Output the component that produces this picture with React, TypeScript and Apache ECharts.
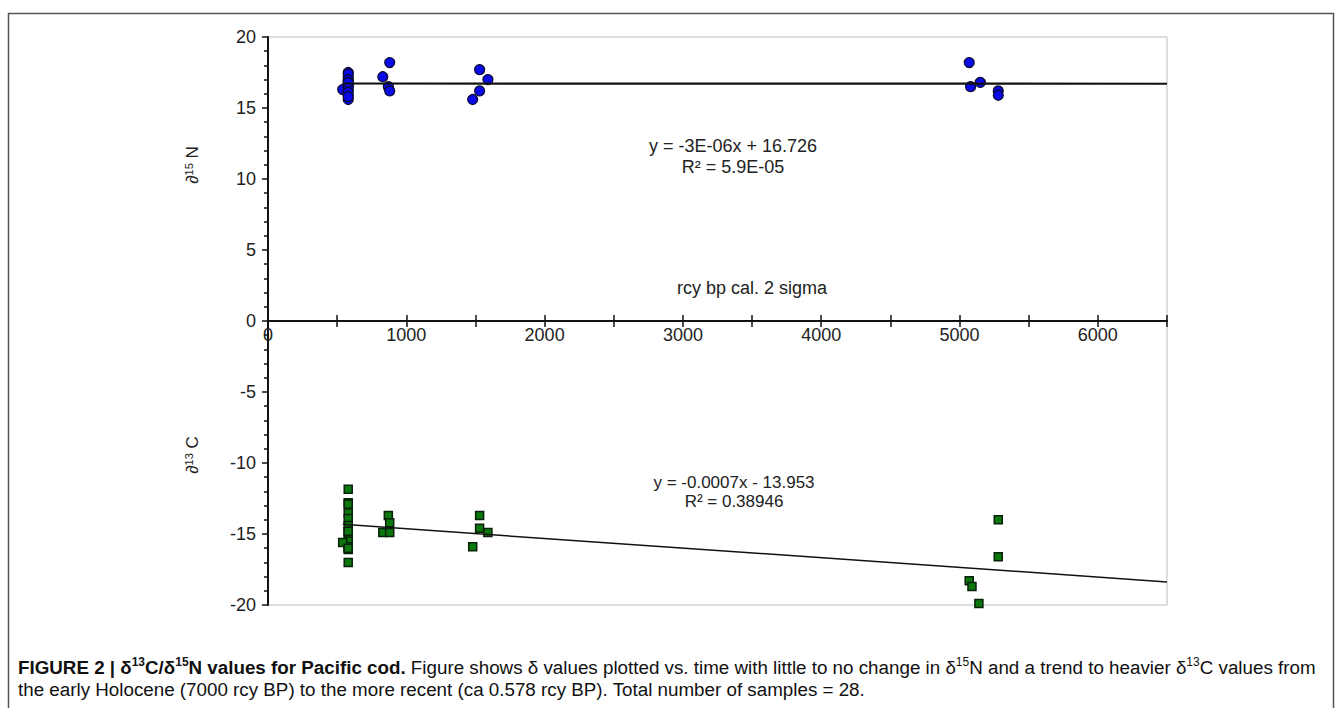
import React, { useEffect, useRef } from "react";
import * as echarts from "echarts";

// ---- data ----
const nCluster1X = [580, 580, 580, 580, 580, 580, 580, 540, 580, 580, 580, 580, 580, 580, 580];
const nCluster1Y = [17.5, 17.2, 16.9, 16.6, 16.3, 15.9, 15.6, 16.3, 17.4, 17.0, 16.7, 16.5, 16.1, 15.8, 16.8];
const nOtherX = [830, 880, 870, 880, 1480, 1530, 1530, 1590, 5070, 5080, 5150, 5280, 5280];
const nOtherY = [17.2, 18.2, 16.5, 16.2, 15.6, 17.7, 16.2, 17.0, 18.2, 16.5, 16.8, 16.2, 15.9];

const cCluster1X = [580, 580, 580, 580, 580, 580, 580, 580, 580, 580, 580, 580, 540, 580, 580];
const cCluster1Y = [-11.85, -12.8, -12.9, -13.5, -13.9, -14.4, -14.8, -15.2, -15.5, -15.9, -16.1, -17.0, -15.6, -14.8, -16.0];
const cOtherX = [830, 870, 880, 880, 1480, 1530, 1530, 1590, 5070, 5090, 5140, 5280, 5280];
const cOtherY = [-14.9, -13.7, -14.2, -14.9, -15.9, -13.7, -14.6, -14.9, -18.3, -18.7, -19.9, -14.0, -16.6];

// trend lines (from the printed regression equations)
const trendX = [540, 6500];
const nSlope = -0.000003;
const nIntercept = 16.726;
const cSlope = -0.00068;
const cIntercept = -13.953;

const xTicks = [0, 1000, 2000, 3000, 4000, 5000, 6000];
const yTicks = [-20, -15, -10, -5, 0, 5, 10, 15, 20];

const FONT = "Arial, 'Liberation Sans', sans-serif";

export default function App() {
  const ref = useRef<HTMLDivElement>(null);
  useEffect(() => {
    document.body.style.margin = "0";
    const chart = echarts.init(ref.current!, undefined, { renderer: "svg" });
    const nData = [
      ...nCluster1X.map((x, i) => [x, nCluster1Y[i]]),
      ...nOtherX.map((x, i) => [x, nOtherY[i]]),
    ];
    const cData = [
      ...cCluster1X.map((x, i) => [x, cCluster1Y[i]]),
      ...cOtherX.map((x, i) => [x, cOtherY[i]]),
    ];
    const nTrend = trendX.map((x) => [x, nSlope * x + nIntercept]);
    const cTrend = trendX.map((x) => [x, cSlope * x + cIntercept]);

    const gridTop = 37;
    const gridBottom = 103;
    const plotH = 708 - gridTop - gridBottom;
    const zeroOffset = -plotH / 2; // y-range is symmetric (-20..20)

    const tickStyle = { color: "#111", width: 1.5 };
    const xAxisBase = {
      type: "value",
      min: 0,
      max: 6500,
      interval: 1000,
      offset: zeroOffset,
      splitLine: { show: false },
      axisLine: { show: true, onZero: false, lineStyle: { color: "#111", width: 2 } },
    };

    const annot = (text: string, x: number, y: number, size: number) => ({
      type: "text",
      x,
      y,
      style: { text, align: "center", verticalAlign: "middle", fontSize: size, fontFamily: FONT, fill: "#222" },
    });

    chart.setOption({
      animation: false,
      backgroundColor: "#fff",
      grid: {
        left: 268,
        top: gridTop,
        right: 175,
        bottom: gridBottom,
        show: true,
        borderColor: "#bdbdbd",
        borderWidth: 1,
      },
      xAxis: [
        {
          ...xAxisBase,
          position: "bottom",
          axisTick: { show: true, inside: false, length: 6, lineStyle: tickStyle },
          minorTick: { show: true, splitNumber: 2, length: 6, lineStyle: tickStyle },
          axisLabel: {
            show: true,
            margin: 5,
            fontSize: 18,
            color: "#222",
            fontFamily: FONT,
            formatter: (v: number) => (xTicks.includes(v) ? String(v) : ""),
          },
        },
        {
          ...xAxisBase,
          position: "top",
          axisTick: { show: true, inside: false, length: 6, lineStyle: tickStyle },
          minorTick: { show: true, splitNumber: 2, length: 6, lineStyle: tickStyle },
          axisLabel: { show: false },
        },
      ],
      yAxis: {
        type: "value",
        min: -20,
        max: 20,
        interval: 5,
        splitLine: { show: false },
        axisLine: { show: true, onZero: false, lineStyle: { color: "#111", width: 2 } },
        axisTick: { show: true, length: 6, lineStyle: tickStyle },
        minorTick: { show: true, splitNumber: 5, length: 4, lineStyle: tickStyle },
        axisLabel: {
          margin: 12,
          fontSize: 18,
          color: "#222",
          fontFamily: FONT,
          formatter: (v: number) => (yTicks.includes(v) ? String(v) : ""),
        },
      },
      series: [
        {
          type: "scatter",
          data: nData,
          symbol: "circle",
          symbolSize: 10,
          itemStyle: { color: "#0a0ae6", borderColor: "#0a0a30", borderWidth: 1.2, opacity: 1 },
          z: 3,
        },
        {
          type: "scatter",
          data: cData,
          symbol: "rect",
          symbolSize: 8,
          itemStyle: { color: "#0b780e", borderColor: "#082008", borderWidth: 1.5, opacity: 1 },
          z: 3,
        },
        {
          type: "line",
          data: nTrend,
          showSymbol: false,
          lineStyle: { color: "#111", width: 2.2 },
          z: 4,
        },
        {
          type: "line",
          data: cTrend,
          showSymbol: false,
          lineStyle: { color: "#111", width: 1.5 },
          z: 4,
        },
      ],
      graphic: [
        {
          type: "rect",
          shape: { x: 8.5, y: 13.5, width: 1325, height: 710 },
          style: { fill: "none", stroke: "#555", lineWidth: 1.5 },
          z: 0,
        },
        {
          type: "text",
          x: 192,
          y: 165,
          rotation: Math.PI / 2,
          style: {
            text: "{a|∂}{s|15}{a| N}",
            align: "center",
            verticalAlign: "middle",
            rich: {
              a: { fontSize: 17, fontFamily: FONT, fill: "#222", lineHeight: 18 },
              s: { fontSize: 11, fontFamily: FONT, fill: "#222", verticalAlign: "top", lineHeight: 18 },
            },
          },
        },
        {
          type: "text",
          x: 192,
          y: 455,
          rotation: Math.PI / 2,
          style: {
            text: "{a|∂}{s|13}{a| C}",
            align: "center",
            verticalAlign: "middle",
            rich: {
              a: { fontSize: 17, fontFamily: FONT, fill: "#222", lineHeight: 18 },
              s: { fontSize: 11, fontFamily: FONT, fill: "#222", verticalAlign: "top", lineHeight: 18 },
            },
          },
        },
        annot("y = -3E-06x + 16.726", 733, 146, 18),
        annot("R² = 5.9E-05", 733, 167, 18),
        annot("rcy bp cal. 2 sigma", 752, 288, 18),
        annot("y = -0.0007x - 13.953", 734, 482, 17),
        annot("R² = 0.38946", 734, 501, 17),
        {
          type: "text",
          x: 18,
          y: 667,
          style: {
            text:
              "{b|FIGURE 2 | δ}{bs|13}{b|C/δ}{bs|15}{b|N values for Pacific cod.}{r| Figure shows δ values plotted vs. time with little to no change in δ}{rs|15}{r|N and a trend to heavier δ}{rs|13}{r|C values from}",
            verticalAlign: "middle",
            rich: {
              b: { fontSize: 18.8, fontWeight: "bold", fontFamily: FONT, fill: "#111", lineHeight: 22 },
              bs: { fontSize: 12, fontWeight: "bold", fontFamily: FONT, fill: "#111", verticalAlign: "top", lineHeight: 22 },
              r: { fontSize: 18.8, fontFamily: FONT, fill: "#111", lineHeight: 22 },
              rs: { fontSize: 12, fontFamily: FONT, fill: "#111", verticalAlign: "top", lineHeight: 22 },
            },
          },
        },
        {
          type: "text",
          x: 18,
          y: 689,
          style: {
            text: "the early Holocene (7000 rcy BP) to the more recent (ca 0.578 rcy BP). Total number of samples = 28.",
            verticalAlign: "middle",
            fontSize: 18.8,
            fontFamily: FONT,
            fill: "#111",
          },
        },
      ],
    });
    return () => chart.dispose();
  }, []);
  return <div ref={ref} style={{ width: 1342, height: 708 }} />;
}
